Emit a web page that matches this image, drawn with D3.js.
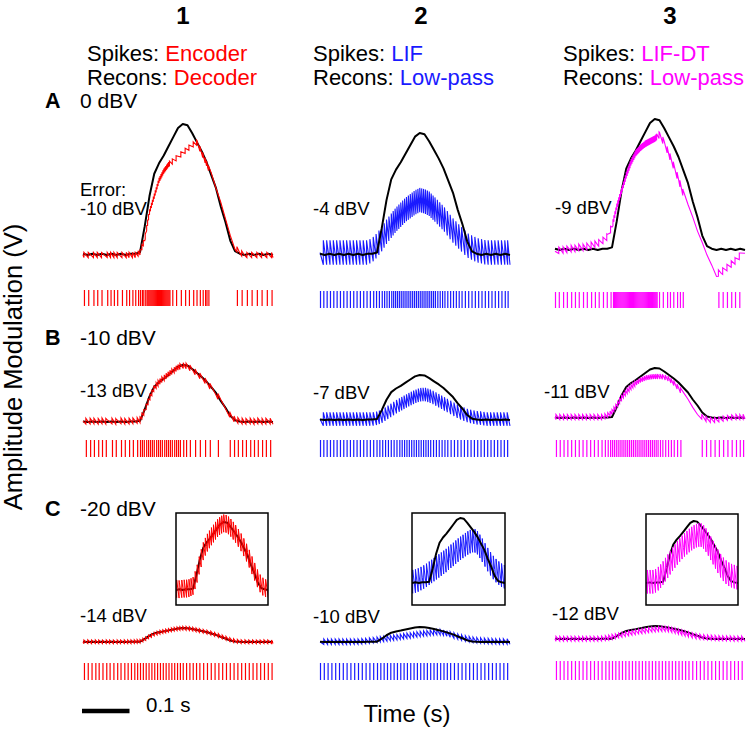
<!DOCTYPE html>
<html><head><meta charset="utf-8">
<script src="https://cdn.jsdelivr.net/npm/d3@7"></script>
<style>
body{margin:0;background:#fff}
svg{display:block}
text{font-family:"Liberation Sans",Arial,Helvetica,sans-serif;fill:#000}
</style>
</head><body>
<svg id="chart" width="756" height="734"></svg>
<script>
// ---------------- DATA ----------------
const columnTitles = ["1", "2", "3"];
const spikeMethods = ["Encoder", "LIF", "LIF-DT"];
const reconMethods = ["Decoder", "Low-pass", "Low-pass"];
const rowLabels = ["A", "B", "C"];
const inputLevels = ["0 dBV", "-10 dBV", "-20 dBV"];
const errorLabels = [
  ["-10 dBV", "-4 dBV", "-9 dBV"],
  ["-13 dBV", "-7 dBV", "-11 dBV"],
  ["-14 dBV", "-10 dBV", "-12 dBV"]
];
const xAxisTitle = "Time (s)";
const yAxisTitle = "Amplitude Modulation (V)";
const scaleBarLabel = "0.1 s";
const scaleBarSeconds = 0.1;

// sample times (ms) of the curves
const timeMs = [0,10,20,30,40,50,60,70,80,90,100,110,120,130,140,150,160,170,180,190,200,
  210,220,230,240,250,260,270,280,290,300,310,320,330,340,350,360,370,380,390,400];

// stimulus envelope (normalised to its peak)
const stimulus = [0.01,0,0.01,0,0.01,0,0.01,0,0.01,0,0.01,0.01,
  0.02,0.22,0.45,0.62,0.70,0.76,0.83,0.90,0.97,1.00,0.99,0.93,0.86,0.79,0.71,0.61,0.51,0.37,0.25,0.11,0.03,
  0.01,0,0.01,0,0.01,0,0.01,0];

// reconstructions (centre of the trace, same units as stimulus)
const reconA1 = [0,0,0,0,0,0,0,0,0,0,0,0,
  0.02,0.12,0.33,0.45,0.57,0.64,0.69,0.72,0.75,0.78,0.81,0.84,0.86,0.78,0.70,0.61,0.50,0.40,0.28,0.16,0.06,
  0.02,0,0,0,0,0,0,0];
const reconA2 = [0.02,0.02,0.02,0.02,0.02,0.02,0.02,0.02,0.02,0.02,0.02,
  0.04,0.08,0.13,0.19,0.24,0.29,0.33,0.37,0.40,0.43,0.45,0.44,0.42,0.38,0.34,0.30,0.25,0.20,0.16,0.12,0.08,0.06,0.04,0.03,
  0.02,0.02,0.02,0.02,0.02,0.02];
const reconA3 = [-0.01,0,0,0.01,0.01,0.02,0.02,0.03,0.04,0.05,0.07,0.10,0.18,0.33,0.45,0.57,0.67,0.74,0.78,0.81,0.83,
  0.85,0.88,0.82,0.73,0.64,0.54,0.43,0.33,0.24,0.14,0.06,-0.03,-0.10,-0.18,-0.17,-0.14,-0.11,-0.08,-0.04,0];
const reconB1 = [0.02,0.01,0.02,0.01,0.02,0.01,0.02,0.01,0.02,0.01,0.02,0.02,
  0.04,0.20,0.42,0.60,0.70,0.77,0.84,0.90,0.96,0.99,0.98,0.92,0.85,0.78,0.70,0.60,0.50,0.37,0.25,0.12,0.04,
  0.02,0.01,0.02,0.01,0.02,0.01,0.02,0.01];
const reconB2 = [0.02,0.02,0.02,0.02,0.02,0.02,0.02,0.02,0.02,0.02,0.02,0.02,
  0.04,0.08,0.15,0.22,0.29,0.35,0.41,0.47,0.52,0.56,0.57,0.54,0.49,0.43,0.37,0.31,0.25,0.19,0.14,0.10,0.07,0.05,0.04,
  0.02,0.02,0.02,0.02,0.02,0.02];
const reconB3 = [0.02,0.02,0.02,0.02,0.02,0.02,0.02,0.02,0.02,0.02,0.02,
  0.05,0.12,0.25,0.40,0.52,0.62,0.70,0.76,0.80,0.82,0.83,0.83,0.82,0.78,0.70,0.60,0.48,0.36,0.22,0.10,
  0.02,-0.03,-0.04,-0.04,-0.02,0,0.01,0.02,0.02,0.03];
const reconC1 = [0.01,0.02,0.01,0.02,0.01,0.02,0.01,0.02,0.01,0.02,0.02,0.03,
  0.06,0.20,0.40,0.57,0.68,0.76,0.83,0.90,0.95,0.98,0.97,0.92,0.86,0.79,0.71,0.62,0.52,0.40,0.28,0.16,0.07,
  0.03,0.02,0.01,0.02,0.01,0.02,0.01,0.02];
const reconC2 = [0.02,0.02,0.02,0.02,0.02,0.02,0.02,0.02,0.03,0.05,0.08,
  0.11,0.15,0.19,0.23,0.27,0.31,0.35,0.40,0.44,0.49,0.53,0.57,0.61,0.64,0.66,0.62,0.54,0.45,0.36,0.28,
  0.21,0.16,0.12,0.09,0.07,0.05,0.04,0.03,0.03,0.03];
const reconC3 = [0.02,0.02,0.02,0.02,0.02,0.02,0.02,0.02,0.02,0.02,
  0.04,0.09,0.16,0.24,0.32,0.40,0.47,0.54,0.60,0.65,0.70,0.74,0.77,0.78,0.74,0.66,0.56,0.46,0.36,0.27,0.20,
  0.15,0.12,0.10,0.08,0.06,0.05,0.04,0.03,0.03,0.02];

// ripple half-amplitude of each reconstruction (stimulus units)
const rippleA = [0.02, 0.10, 0.025];
const rippleB = [0.05, 0.15, 0.05];
const rippleC = [0.13, 0.18, 0.19];

// spike times (ms)
const spikesA1 = [2,11,22,30,39,51,58,65,72,82,91,97,104,110,116,120,124,127,131,
  134,136,138,140,142,144,146,148,150,152,154,156,158,160,162,164,166,168,170,172,174,176,178,180,182,
  188,196,206,215,223,232,239,246,252,257,260,264,
  324,334,345,355,366,376,387,397];
const spikesA2 = [0,7,14,21,28,35,42,49,56,63,70,77,84,91,98,105,112,118,124,130,135,140,145,150,154,158,
  162,166,170,174,178,182,186,190,194,198,202,206,210,214,218,222,226,230,234,238,242,247,252,257,262,268,
  274,280,286,292,298,305,312,319,326,333,340,347,354,361,368,375,382,389,395];
const spikesA3 = [0,8,17,25,34,42,50,59,67,76,84,92,101,109,117,
  122,124,126,128,130,132,134,136,138,140,142,144,146,148,150,152,154,156,158,160,162,164,166,168,170,172,
  174,176,178,180,182,184,186,188,190,192,194,196,198,200,202,204,206,208,210,212,214,
  219,227,236,242,249,257,263,269,
  344,353,362,371,379,388];
const spikesB1 = [6,15,23,32,40,48,61,69,80,88,97,105,114,120,124,128,133,137,141,145,149,154,158,162,166,
  171,175,179,183,187,192,196,200,204,211,217,225,236,246,257,267,284,
  309,318,326,335,343,352,360,368,377,385,394];
const spikesB2 = [0,7,14,21,28,35,42,49,56,63,70,77,84,91,98,105,112,119,125,131,137,143,149,155,161,167,
  172,177,182,187,192,197,202,207,212,217,222,227,232,238,244,250,256,262,268,275,282,289,296,303,310,317,
  324,331,338,345,352,359,366,373,380,387,394];
const spikesB3 = [2,10,18,26,34,42,50,58,66,74,82,90,98,105,111,116,120,124,128,132,136,140,144,148,152,156,
  160,164,168,172,176,180,184,188,192,196,200,204,208,212,216,221,226,232,238,244,250,257,264,
  309,318,327,336,345,354,363,372,381,389,396];
const spikesC1 = [2,10,18,26,33,41,49,56,64,72,79,87,94,101,108,114,120,126,132,138,144,150,156,162,168,174,
  180,186,192,198,204,210,217,224,231,238,245,253,261,269,277,285,293,301,309,317,325,333,341,349,357,
  365,373,381,389,397];
const spikesC2 = [0,8,16,24,32,40,48,56,64,72,80,88,96,104,112,120,127,134,141,148,155,162,169,176,183,190,
  197,204,211,218,225,232,239,246,253,260,267,274,282,290,298,306,314,322,330,338,346,354,362,370,378,386,394];
const spikesC3 = [2,10,18,26,34,42,50,58,66,74,82,90,98,106,113,120,127,134,141,148,155,162,169,176,183,190,
  197,204,211,218,225,232,239,246,253,260,267,274,281,289,297,305,313,321,329,337,345,353,361,369,377,385,393];

const timeDomain = [0, 0.4];
const insetDomain = [0.07, 0.34];

// ---------------- LAYOUT / STYLE ----------------
const colors = ["#ff0000", "#1a1aff", "#ff00ff"];
const colX = [83, 320, 555];
const panelW = 190;
const rows = [
  { recon: [reconA1, reconA2, reconA3], ripple: rippleA, spikes: [spikesA1, spikesA2, spikesA3],
    base: [255, 255, 250], unit: [131, 122, 131], raster: [[290,306],[291,308],[292,308]],
    errPos: [[80,215],[313,215],[555,214]], labelY: 108 },
  { recon: [reconB1, reconB2, reconB3], ripple: rippleB, spikes: [spikesB1, spikesB2, spikesB3],
    base: [422, 420, 418], unit: [57, 45, 50], raster: [[440,457],[440,457],[440,457]],
    errPos: [[80,397],[313,399],[544,398]], labelY: 345 },
  { recon: [reconC1, reconC2, reconC3], ripple: rippleC, spikes: [spikesC1, spikesC2, spikesC3],
    base: [642, 642, 639], unit: [14, 15, 13], raster: [[663,680],[663,680],[661,680]],
    errPos: [[80,622],[313,623],[552,620]], labelY: 516 }
];
const insets = [
  { x0: 176, x1: 268, y0: 513, y1: 605, zero: 590, unit: 68 },
  { x0: 412, x1: 505, y0: 513, y1: 605, zero: 583, unit: 65 },
  { x0: 646, x1: 738, y0: 514, y1: 605, zero: 583, unit: 62 }
];

// ---------------- DRAW ----------------
const svg = d3.select("#chart");

function interp(arr, tSec) {
  const f = tSec * 1000 / 10;
  let i = Math.floor(f);
  if (i < 0) return arr[0];
  if (i >= arr.length - 1) return arr[arr.length - 1];
  const u = f - i;
  return arr[i] * (1 - u) + arr[i + 1] * u;
}

// trace of a spike-driven reconstruction: jump at each spike, ramp down between spikes
function reconTrace(recon, ripple, spikes) {
  const s = spikes.map(d => d / 1000).filter(d => d > timeDomain[0] && d < timeDomain[1]).sort(d3.ascending);
  const bounds = [timeDomain[0], ...s, timeDomain[1]];
  const gridT = timeMs.map(d => d / 1000);
  const pts = [];
  for (let k = 0; k < bounds.length - 1; k++) {
    const a = bounds[k], b = bounds[k + 1];
    const startOff = k > 0 ? ripple : 0;
    if (k > 0) pts.push([a, interp(recon, a) - ripple]);
    pts.push([a, interp(recon, a) + startOff]);
    gridT.forEach(g => {
      if (g > a && g < b) {
        const off = startOff + (-ripple - startOff) * (g - a) / (b - a);
        pts.push([g, interp(recon, g) + off]);
      }
    });
    pts.push([b, interp(recon, b) - ripple]);
  }
  return pts;
}

const defs = svg.append("defs");

rows.forEach((row, r) => {
  for (let c = 0; c < 3; c++) {
    const x = d3.scaleLinear().domain(timeDomain).range([colX[c], colX[c] + panelW]);
    const y = d3.scaleLinear().domain([0, 1]).range([row.base[c], row.base[c] - row.unit[c]]);
    const g = svg.append("g");
    const stimLine = d3.line().x((d, i) => x(timeMs[i] / 1000)).y(d => y(d));
    const recLine = d3.line().x(d => x(d[0])).y(d => y(d[1]));
    const trace = reconTrace(row.recon[c], row.ripple[c], row.spikes[c]);

    const drawStim = () => g.append("path").datum(stimulus).attr("d", stimLine)
      .attr("fill", "none").attr("stroke", "#000").attr("stroke-width", 2).attr("stroke-linejoin", "round");
    const drawRec = () => g.append("path").datum(trace).attr("d", recLine)
      .attr("fill", "none").attr("stroke", colors[c]).attr("stroke-width", 1.1);

    if (c === 1) { drawRec(); drawStim(); } else { drawStim(); drawRec(); }

    // raster
    g.append("g").selectAll("line").data(row.spikes[c]).join("line")
      .attr("x1", d => x(d / 1000) + 0.5).attr("x2", d => x(d / 1000) + 0.5)
      .attr("y1", row.raster[c][0]).attr("y2", row.raster[c][1])
      .attr("stroke", colors[c]).attr("stroke-width", 1.2);

    // error label
    svg.append("text").attr("x", row.errPos[c][0]).attr("y", row.errPos[c][1])
      .attr("font-size", 18.5).text(errorLabels[r][c]);

    // insets for the last row
    if (r === 2) {
      const ins = insets[c];
      const id = "clip" + c;
      defs.append("clipPath").attr("id", id).append("rect")
        .attr("x", ins.x0).attr("y", ins.y0).attr("width", ins.x1 - ins.x0).attr("height", ins.y1 - ins.y0);
      const xi = d3.scaleLinear().domain(insetDomain).range([ins.x0, ins.x1]);
      const yi = d3.scaleLinear().domain([0, 1]).range([ins.zero, ins.zero - ins.unit]);
      const gi = svg.append("g").attr("clip-path", `url(#${id})`);
      const sL = d3.line().x((d, i) => xi(timeMs[i] / 1000)).y(d => yi(d));
      const rL = d3.line().x(d => xi(d[0])).y(d => yi(d[1]));
      const dS = () => gi.append("path").datum(stimulus).attr("d", sL).attr("fill", "none")
        .attr("stroke", "#000").attr("stroke-width", 2).attr("stroke-linejoin", "round");
      const dR = () => gi.append("path").datum(trace).attr("d", rL).attr("fill", "none")
        .attr("stroke", colors[c]).attr("stroke-width", 1);
      if (c === 1) { dR(); dS(); } else { dS(); dR(); }
      svg.append("rect").attr("x", ins.x0).attr("y", ins.y0)
        .attr("width", ins.x1 - ins.x0).attr("height", ins.y1 - ins.y0)
        .attr("fill", "none").attr("stroke", "#000").attr("stroke-width", 1.5);
    }
  }
  // row label + input level
  svg.append("text").attr("x", 45).attr("y", row.labelY).attr("font-size", 21.5)
    .attr("font-weight", "bold").text(rowLabels[r]);
  svg.append("text").attr("x", 80).attr("y", row.labelY).attr("font-size", 21).text(inputLevels[r]);
});

// "Error:" caption
svg.append("text").attr("x", 80).attr("y", 196).attr("font-size", 18.5).text("Error:");

// column headers
const headX = [87, 313, 563];
const titleX = [183, 421, 670];
columnTitles.forEach((t, c) => {
  svg.append("text").attr("x", titleX[c]).attr("y", 24).attr("text-anchor", "middle")
    .attr("font-size", 24).attr("font-weight", "bold").text(t);
  const t1 = svg.append("text").attr("x", headX[c]).attr("y", 61).attr("font-size", 22);
  t1.append("tspan").text("Spikes: ");
  t1.append("tspan").style("fill", colors[c]).text(spikeMethods[c]);
  const t2 = svg.append("text").attr("x", headX[c]).attr("y", 84.5).attr("font-size", 22);
  t2.append("tspan").text("Recons: ");
  t2.append("tspan").style("fill", colors[c]).text(reconMethods[c]);
});

// scale bar
const xs = d3.scaleLinear().domain(timeDomain).range([colX[0], colX[0] + panelW]);
svg.append("line").attr("x1", xs(0) - 1).attr("x2", xs(scaleBarSeconds) - 1)
  .attr("y1", 711).attr("y2", 711).attr("stroke", "#000").attr("stroke-width", 4.5);
svg.append("text").attr("x", 146).attr("y", 712).attr("font-size", 20.5).text(scaleBarLabel);

// axis titles
svg.append("text").attr("x", 407).attr("y", 722).attr("text-anchor", "middle")
  .attr("font-size", 24).text(xAxisTitle);
svg.append("text").attr("transform", "translate(22,367) rotate(-90)").attr("text-anchor", "middle")
  .attr("font-size", 25.5).text(yAxisTitle);
</script>
</body></html>
